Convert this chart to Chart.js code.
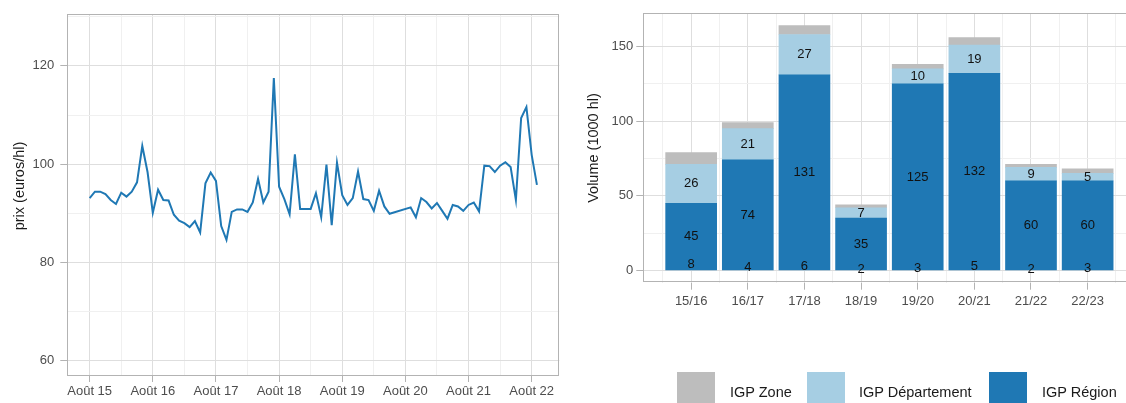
<!DOCTYPE html>
<html><head><meta charset="utf-8">
<script src="https://cdn.jsdelivr.net/npm/chart.js@4.4.0/dist/chart.umd.min.js"></script>
<style>
html,body{margin:0;padding:0;background:#fff;overflow:hidden;width:1126px;height:403px;position:relative;}
#left{position:absolute;left:0;top:0;width:570px;height:403px;}
#right{position:absolute;left:570px;top:0;width:570px;height:403px;}
.lg{position:absolute;font-family:'Liberation Sans',Arial,sans-serif;font-size:14.5px;color:#1a1a1a;line-height:18px;top:383px;white-space:nowrap;}
.sw{position:absolute;width:38px;height:38px;top:372px;}
</style></head><body>
<div id="left"><canvas id="c1"></canvas></div>
<div id="right"><canvas id="c2"></canvas></div>
<div class="sw" style="left:677px;background:#bdbdbd"></div>
<div class="lg" style="left:730px">IGP Zone</div>
<div class="sw" style="left:807px;background:#a6cee3"></div>
<div class="lg" style="left:859px">IGP Département</div>
<div class="sw" style="left:989px;background:#1f78b4"></div>
<div class="lg" style="left:1042px">IGP Région</div>
<script>
// ---------- data ----------
// monthly price, Aug 2015 (index 0) to Sep 2022 (index 85); null = missing month
const priceValues = [
  93.1, 94.4, 94.4, 93.9, 92.7, 91.9, 94.2, 93.4, 94.4, 96.3, 103.7, 98.4,
  90.1, 94.8, 92.7, 92.6, 89.7, 88.5, 88.0, 87.2, 88.4, 86.1, 96.1, 98.3,
  96.6, 87.4, 84.6, 90.3, 90.8, 90.8, 90.3, 92.2, 97.0, 92.2, 94.4, 117.5,
  95.4, 92.9, 89.8, 102.0, 90.9, 90.9, 90.9, 94.1, 89.2, 99.9, 87.6, 100.3,
  93.7, 91.7, 93.1, 98.5, 92.9, 92.7, 90.5, 94.6, 91.4, 89.9, null, null,
  null, 91.2, 89.2, 93.1, 92.3, 91.0, 92.1, 90.5, 88.9, 91.7, 91.4, 90.5,
  91.7, 92.2, 90.4, 99.7, 99.6, 98.4, 99.7, 100.4, 99.4, 92.7, 109.4, 111.6,
  101.9, 95.8
];
const xTickLabels = ['Août 15','Août 16','Août 17','Août 18','Août 19','Août 20','Août 21','Août 22'];
const priceTicks = [60, 80, 100, 120];

const seasons = ['15/16','16/17','17/18','18/19','19/20','20/21','21/22','22/23'];
const igpRegion = [45, 74, 131, 35, 125, 132, 60, 60];
const igpDepartement = [26, 21, 27, 7, 10, 19, 9, 5];
const igpZone = [8, 4, 6, 2, 3, 5, 2, 3];
const volumeTicks = [0, 50, 100, 150];

// ---------- style ----------
const FONT = "'Liberation Sans', Arial, sans-serif";
const MAJOR = '#dedede', MINOR = '#f0f0f0', BORDER = '#b3b3b3', TICKTXT = '#4d4d4d';
const DARK = '#1f78b4', LIGHT = '#a6cee3', GREY = '#bdbdbd';

const panelBorder = {
  id: 'panelBorder',
  afterDatasetsDraw(chart) {
    const a = chart.chartArea, c = chart.ctx;
    c.save(); c.strokeStyle = BORDER; c.lineWidth = 1;
    c.strokeRect(Math.round(a.left) + 0.5, Math.round(a.top) + 0.5,
                 Math.round(a.right - a.left) - 1, Math.round(a.bottom - a.top) - 1);
    c.restore();
  }
};
function yTitlePlugin(text, x, y) {
  return {
    id: 'yTitle',
    afterDraw(chart) {
      const c = chart.ctx;
      c.save(); c.translate(x, y); c.rotate(-Math.PI / 2);
      c.font = '14.5px ' + FONT; c.fillStyle = '#1a1a1a';
      c.textAlign = 'center'; c.textBaseline = 'middle';
      c.fillText(text, 0, 0); c.restore();
    }
  };
}

// ---------- left: price line ----------
const linePoints = priceValues.map((v, i) => ({ x: i, y: v }));
new Chart(document.getElementById('c1'), {
  type: 'line',
  data: { datasets: [{ data: linePoints, borderColor: DARK, borderWidth: 2,
    pointRadius: 0, tension: 0, spanGaps: true, fill: false }] },
  options: {
    responsive: true, maintainAspectRatio: false, animation: false,
    layout: { padding: { left: 0, top: 14, right: 10.7, bottom: 0 } },
    plugins: { legend: { display: false }, tooltip: { enabled: false } },
    scales: {
      x: {
        type: 'linear', min: -4.25, max: 89.25, offset: false,
        afterBuildTicks: s => { const t = []; for (let v = 0; v <= 84; v += 6) t.push({ value: v }); s.ticks = t; },
        afterFit: s => { s.height = 27; },
        border: { display: false },
        grid: { color: c => (c.tick && c.tick.value % 12 === 0) ? MAJOR : MINOR,
                tickColor: c => (c.tick && c.tick.value % 12 === 0) ? BORDER : 'rgba(0,0,0,0)',
                tickLength: 6, lineWidth: 1 },
        ticks: { autoSkip: false, maxRotation: 0, padding: 2, color: TICKTXT,
                 font: { family: FONT, size: 13 },
                 callback: v => (v % 12 === 0 ? xTickLabels[v / 12] : '') }
      },
      y: {
        min: 56.9, max: 130.55,
        afterBuildTicks: s => { const t = []; for (let v = 60; v <= 130; v += 10) t.push({ value: v }); s.ticks = t; },
        afterFit: s => { s.width = 67.3; },
        border: { display: false },
        grid: { color: c => (c.tick && priceTicks.includes(c.tick.value)) ? MAJOR : MINOR,
                tickColor: c => (c.tick && priceTicks.includes(c.tick.value)) ? BORDER : 'rgba(0,0,0,0)',
                tickLength: 7, lineWidth: 1 },
        ticks: { padding: 6, color: TICKTXT, font: { family: FONT, size: 13 },
                 callback: v => (priceTicks.includes(v) ? String(v) : '') }
      }
    }
  },
  plugins: [panelBorder, yTitlePlugin('prix (euros/hl)', 20, 186)]
});

// ---------- right: stacked bars ----------
const barLabels = {
  id: 'barLabels',
  afterDatasetsDraw(chart) {
    const c = chart.ctx, xs = chart.scales.x, ys = chart.scales.y;
    c.save(); c.font = '13px ' + FONT; c.fillStyle = '#111';
    c.textAlign = 'center'; c.textBaseline = 'middle';
    seasons.forEach((s, i) => {
      const px = xs.getPixelForValue(i);
      c.fillText(String(igpRegion[i]), px, ys.getPixelForValue(igpRegion[i] / 2));
      c.fillText(String(igpDepartement[i]), px, ys.getPixelForValue(igpRegion[i] + igpDepartement[i] / 2));
      c.fillText(String(igpZone[i]), px, ys.getPixelForValue(igpZone[i] / 2));
    });
    c.restore();
  }
};
const mk = arr => arr.map((v, i) => ({ x: i, y: v }));
const BAR_W = 51;
new Chart(document.getElementById('c2'), {
  type: 'bar',
  data: { datasets: [
    { label: 'IGP Région', data: mk(igpRegion), backgroundColor: DARK, barThickness: BAR_W },
    { label: 'IGP Département', data: mk(igpDepartement), backgroundColor: LIGHT, barThickness: BAR_W },
    { label: 'IGP Zone', data: mk(igpZone), backgroundColor: GREY, barThickness: BAR_W }
  ] },
  options: {
    responsive: true, maintainAspectRatio: false, animation: false,
    layout: { padding: { left: 0, top: 13.3, right: 4.5, bottom: 0 } },
    plugins: { legend: { display: false }, tooltip: { enabled: false } },
    scales: {
      x: {
        type: 'linear', stacked: true, min: -0.845, max: 7.845, offset: false,
        afterBuildTicks: s => { const t = []; for (let v = -0.5; v <= 7.5; v += 0.5) t.push({ value: v }); s.ticks = t; },
        afterFit: s => { s.height = 120.3; },
        border: { display: false },
        grid: { color: c => (c.tick && Number.isInteger(c.tick.value)) ? MAJOR : MINOR,
                tickColor: c => (c.tick && Number.isInteger(c.tick.value)) ? BORDER : 'rgba(0,0,0,0)',
                tickLength: 7, lineWidth: 1, offset: false },
        ticks: { autoSkip: false, maxRotation: 0, padding: 4, color: TICKTXT,
                 font: { family: FONT, size: 13 },
                 callback: v => (Number.isInteger(v) ? seasons[v] : '') }
      },
      y: {
        stacked: true, min: -8.2, max: 172.2,
        afterBuildTicks: s => { const t = []; for (let v = 0; v <= 150; v += 25) t.push({ value: v }); s.ticks = t; },
        afterFit: s => { s.width = 73.3; },
        border: { display: false },
        grid: { color: c => (c.tick && volumeTicks.includes(c.tick.value)) ? MAJOR : MINOR,
                tickColor: c => (c.tick && volumeTicks.includes(c.tick.value)) ? BORDER : 'rgba(0,0,0,0)',
                tickLength: 7, lineWidth: 1 },
        ticks: { padding: 3, color: TICKTXT, font: { family: FONT, size: 13 },
                 callback: v => (volumeTicks.includes(v) ? String(v) : '') }
      }
    }
  },
  plugins: [panelBorder, barLabels, yTitlePlugin('Volume (1000 hl)', 24, 148)]
});
</script>
</body></html>
